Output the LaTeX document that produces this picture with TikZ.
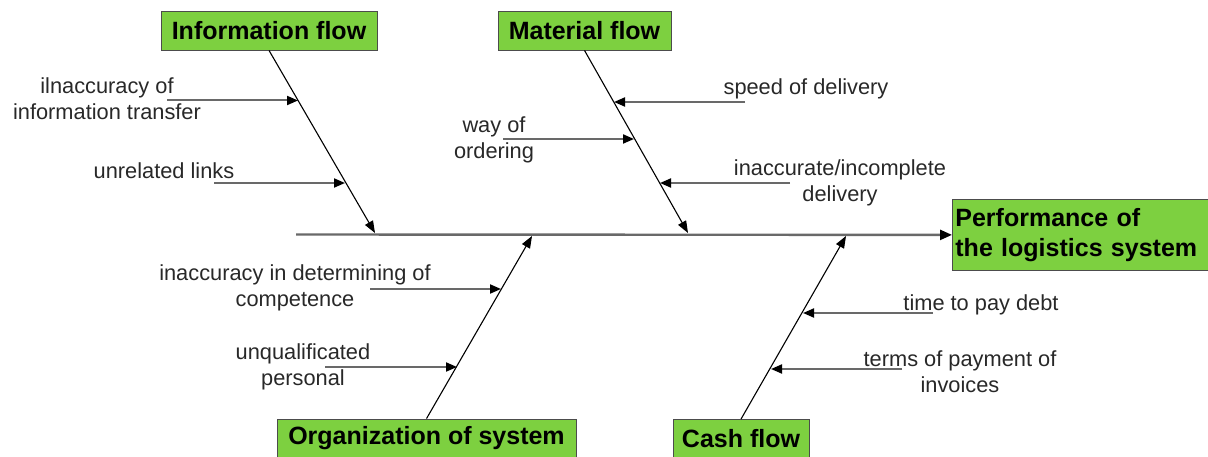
\documentclass[tikz,border=0pt]{standalone}
\usepackage{fontspec}
\setmainfont{Liberation Sans}
\usetikzlibrary{arrows.meta}
\definecolor{boxgreen}{RGB}{125,208,64}
\definecolor{linegray}{RGB}{105,105,105}
\definecolor{txtgray}{RGB}{40,40,40}
\tikzset{
  cat/.style={draw=black!70, fill=boxgreen, line width=0.8pt, font=\fontsize{25}{30}\selectfont\bfseries, text=black, minimum height=39pt, inner sep=0pt},
  lbl/.style={font=\fontsize{21.8}{26}\selectfont, text=txtgray, align=center, inner sep=0pt},
  spineline/.style={draw=linegray, line width=2.4pt, -{Triangle[length=12pt,width=10pt,color=black]}},
  bone/.style={draw=black, line width=1.1pt, -{Triangle[length=12pt,width=9pt]}},
  sub/.style={draw=linegray, line width=2pt, -{Triangle[length=11pt,width=9pt,color=black]}}
}
\begin{document}
\begin{tikzpicture}[x=1pt,y=-1pt]
\useasboundingbox (0,0) rectangle (1208,457);
\clip (0,0) rectangle (1208,457);

% category boxes
\node[cat, minimum width=216pt] (info) at (269,30.5) {Information flow};
\node[cat, minimum width=173pt] (mat) at (584.5,30.5) {Material flow};
\node[cat, minimum width=299pt] (org) at (426.5,438.5) {Organization of system};
\node[cat, minimum width=136pt] (cash) at (741,439) {Cash flow};
\node[cat, anchor=north west, minimum width=263pt, minimum height=71pt, align=left, text width=257pt, inner xsep=3pt] (perf) at (952,199) {Performance of\\the logistics system};

% spine
\coordinate (spst) at (296,234.5);
\draw[spineline] (spst) -- (perf.west);

% bones
\coordinate (ie) at (375,233);
\coordinate (me) at (688,233);
\coordinate (oe) at (532,236);
\coordinate (ce) at (846,236);
\draw[bone] (info.south) -- (ie);
\draw[bone] (mat.south) -- (me);
\draw[bone] (org.north) -- (oe);
\draw[bone] (cash.north) -- (ce);

% labels
\node[lbl] (l1) at (107,99) {ilnaccuracy of\\information transfer};
\node[lbl] (l2) at (164,171) {unrelated links};
\node[lbl] (l3) at (494,140) {way of\\ordering};
\node[lbl] (l4) at (806,89) {speed of delivery};
\node[lbl] (l5) at (840,183) {inaccurate/incomplete\\delivery};
\node[lbl] (l6) at (295,288) {inaccuracy in determining of\\competence};
\node[lbl] (l7) at (303,367) {unqualificated\\personal};
\node[lbl] (l8) at (981,305) {time to pay debt};
\node[lbl] (l9) at (960,372) {terms of payment of\\invoices};

% sub-cause arrows
\coordinate (a1s) at (167,100.5); \coordinate (a1e) at (298,100.5);
\coordinate (a2s) at (214,183);   \coordinate (a2e) at (345,183);
\coordinate (a3s) at (503,139);   \coordinate (a3e) at (634,139);
\coordinate (a4s) at (745,102);   \coordinate (a4e) at (614,102);
\coordinate (a5s) at (790,183);   \coordinate (a5e) at (660,183);
\coordinate (a6s) at (370,289);   \coordinate (a6e) at (501,289);
\coordinate (a7s) at (325,367);   \coordinate (a7e) at (457,367);
\coordinate (a8s) at (933,313);   \coordinate (a8e) at (803,313);
\coordinate (a9s) at (902,369);   \coordinate (a9e) at (771,369);
\draw[sub] (a1s) -- (a1e);
\draw[sub] (a2s) -- (a2e);
\draw[sub] (a3s) -- (a3e);
\draw[sub] (a4s) -- (a4e);
\draw[sub] (a5s) -- (a5e);
\draw[sub] (a6s) -- (a6e);
\draw[sub] (a7s) -- (a7e);
\draw[sub] (a8s) -- (a8e);
\draw[sub] (a9s) -- (a9e);
\end{tikzpicture}
\end{document}
